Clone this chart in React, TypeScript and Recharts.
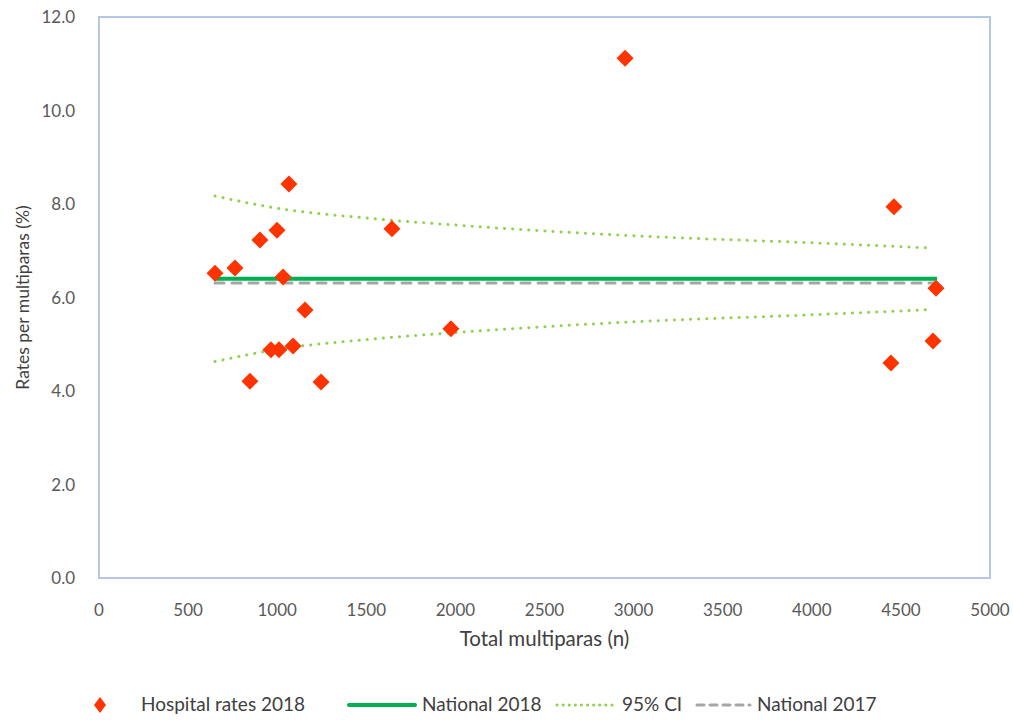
import {
  ComposedChart,
  Scatter,
  Line,
  XAxis,
  YAxis,
  ReferenceArea,
} from "recharts";

// Hospital points (total multiparas, rate %)
const hospitalX = [651, 763, 847, 903, 965, 999, 1010, 1033, 1066, 1089, 1156, 1246, 1644, 1975, 2952, 4444, 4461, 4680, 4697];
const hospitalY = [6.52, 6.63, 4.21, 7.23, 4.88, 7.44, 4.88, 6.44, 8.43, 4.96, 5.73, 4.19, 7.47, 5.33, 11.12, 4.6, 7.94, 5.07, 6.2];

// National reference lines
const nationalX = [651, 4703];
const national2018 = [6.4, 6.4];
const national2017 = [6.31, 6.31];

// 95% CI funnel
const ciX = [651, 1000, 1500, 2000, 3000, 4000, 4663];
const ciUpper = [8.17, 7.91, 7.7, 7.55, 7.32, 7.17, 7.06];
const ciLower = [4.63, 4.89, 5.1, 5.25, 5.48, 5.63, 5.74];

const xTicks = [0, 500, 1000, 1500, 2000, 2500, 3000, 3500, 4000, 4500, 5000];
const yTicks = [0, 2, 4, 6, 8, 10, 12];

const RED = "#FF3300";
const GREEN = "#00B050";
const LIGHT_GREEN = "#92D050";
const GREY = "#A6A6A6";
const FONT = "Lato, 'Open Sans', sans-serif";

const hospitalData = hospitalX.map((x, i) => ({ x, y: hospitalY[i] }));
const nat18Data = nationalX.map((x, i) => ({ x, y: national2018[i] }));
const nat17Data = nationalX.map((x, i) => ({ x, y: national2017[i] }));
const upperData = ciX.map((x, i) => ({ x, y: ciUpper[i] }));
const lowerData = ciX.map((x, i) => ({ x, y: ciLower[i] }));

function Diamond(props: any) {
  const { cx, cy } = props;
  const r = 8.5;
  return (
    <polygon
      points={`${cx},${cy - r} ${cx + r},${cy} ${cx},${cy + r} ${cx - r},${cy}`}
      fill={RED}
    />
  );
}

function ChartLegend() {
  const text = { position: "absolute" as const, top: 692, fontSize: 19, color: "#404040", fontFamily: FONT };
  return (
    <>
      <svg style={{ position: "absolute", left: 0, top: 690 }} width={1013} height={30}>
        <polygon points="100,7 106,15 100,23 94,15" fill={RED} />
        <line x1={349} y1={15} x2={415} y2={15} stroke={GREEN} strokeWidth={4} strokeLinecap="round" />
        <line x1={557} y1={15} x2={615} y2={15} stroke={LIGHT_GREEN} strokeWidth={3} strokeDasharray="0.1 6" strokeLinecap="round" />
        <line x1={697} y1={15} x2={750} y2={15} stroke={GREY} strokeWidth={3} strokeDasharray="7 6" strokeLinecap="round" />
      </svg>
      <span style={{ ...text, left: 141 }}>Hospital rates 2018</span>
      <span style={{ ...text, left: 422 }}>National 2018</span>
      <span style={{ ...text, left: 622 }}>95% CI</span>
      <span style={{ ...text, left: 757 }}>National 2017</span>
    </>
  );
}

export default function App() {
  return (
    <div style={{ position: "absolute", left: 0, top: 0, width: 1013, height: 720, background: "#fff" }}>
      <ComposedChart
        width={1013}
        height={720}
        margin={{ top: 17, right: 23, bottom: 72, left: 0 }}
      >
        <XAxis
          type="number"
          dataKey="x"
          domain={[0, 5000]}
          ticks={xTicks}
          axisLine={false}
          tickLine={false}
          tickMargin={20}
          height={70}
          tick={{ fontSize: 17, fill: "#595959", fontFamily: FONT }}
          label={{ value: "Total multiparas (n)", position: "insideBottom", offset: 2, fill: "#404040", fontSize: 20.5, fontFamily: FONT }}
        />
        <YAxis
          type="number"
          dataKey="y"
          domain={[0, 12]}
          ticks={yTicks}
          width={99}
          axisLine={false}
          tickLine={false}
          tickMargin={18}
          tickFormatter={(v: number) => v.toFixed(1)}
          tick={{ fontSize: 17, fill: "#595959", fontFamily: FONT }}
          label={{ value: "Rates per multiparas (%)", angle: -90, position: "insideLeft", offset: 23, fill: "#404040", fontSize: 17.5, fontFamily: FONT, style: { textAnchor: "middle" } }}
        />
        <ReferenceArea x1={0} x2={5000} y1={0} y2={12} fill="none" stroke="#B4C7E7" strokeWidth={2} />
        <Scatter data={hospitalData} shape={Diamond} isAnimationActive={false} />
        <Line data={nat18Data} dataKey="y" type="linear" stroke={GREEN} strokeWidth={4} dot={false} isAnimationActive={false} />
        <Line data={upperData} dataKey="y" type="monotone" stroke={LIGHT_GREEN} strokeWidth={3} strokeDasharray="0.1 8" strokeLinecap="round" dot={false} isAnimationActive={false} />
        <Line data={lowerData} dataKey="y" type="monotone" stroke={LIGHT_GREEN} strokeWidth={3} strokeDasharray="0.1 8" strokeLinecap="round" dot={false} isAnimationActive={false} />
        <Line data={nat17Data} dataKey="y" type="linear" stroke={GREY} strokeWidth={3} strokeDasharray="9 8" strokeLinecap="round" dot={false} isAnimationActive={false} />
      </ComposedChart>
      <ChartLegend />
    </div>
  );
}
